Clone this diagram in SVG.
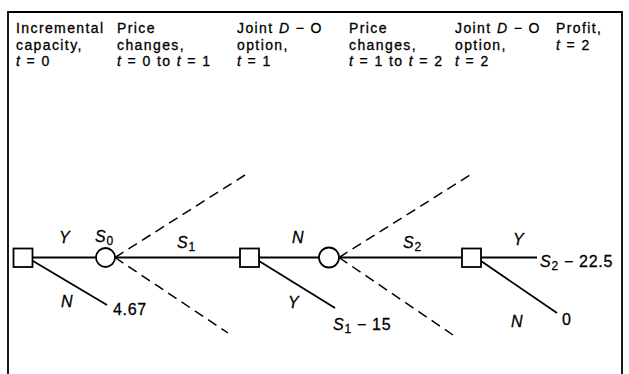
<svg xmlns="http://www.w3.org/2000/svg" width="629" height="374" viewBox="0 0 629 374">
<defs>
<style>
.hd{font-family:"Liberation Sans",Arial,sans-serif;font-size:14px;letter-spacing:1.4px;fill:#000;stroke:#000;stroke-width:0.3}
.lb{font-family:"Liberation Sans",Arial,sans-serif;font-size:16px;letter-spacing:0.7px;fill:#000;stroke:#000;stroke-width:0.3}
.it{font-style:italic}
.up{font-style:normal}
.sb{font-style:normal;font-size:12px}
.ln{stroke:#000;stroke-width:1.8;fill:none}
.ds{stroke:#000;stroke-width:1.5;fill:none;stroke-dasharray:10 6}
.nd{stroke:#000;stroke-width:1.8;fill:#fff}
</style>
</defs>
<rect width="629" height="374" fill="#fff"/>
<g id="frame">
<path class="ln" d="M8,374 V12 H622 V374"/>
</g>
<g id="headers">
<text class="hd" x="16" y="33">Incremental</text>
<text class="hd" x="16" y="49.5">capacity,</text>
<text class="hd" x="16" y="66"><tspan class="it">t</tspan> = 0</text>
<text class="hd" x="117" y="33">Price</text>
<text class="hd" x="117" y="49.5">changes,</text>
<text class="hd" x="117" y="66"><tspan class="it">t</tspan> = 0 to <tspan class="it">t</tspan> = 1</text>
<text class="hd" x="237" y="33">Joint <tspan class="it">D</tspan> − O</text>
<text class="hd" x="237" y="49.5">option,</text>
<text class="hd" x="237" y="66"><tspan class="it">t</tspan> = 1</text>
<text class="hd" x="349" y="33">Price</text>
<text class="hd" x="349" y="49.5">changes,</text>
<text class="hd" x="349" y="66"><tspan class="it">t</tspan> = 1 to <tspan class="it">t</tspan> = 2</text>
<text class="hd" x="455" y="33">Joint <tspan class="it">D</tspan> − O</text>
<text class="hd" x="455" y="49.5">option,</text>
<text class="hd" x="455" y="66"><tspan class="it">t</tspan> = 2</text>
<text class="hd" x="556" y="33">Profit,</text>
<text class="hd" x="556" y="49.5"><tspan class="it">t</tspan> = 2</text>
</g>
<g id="connectors">
<line class="ln" x1="33" y1="257.5" x2="96" y2="257.5"/>
<line class="ln" x1="115" y1="257.5" x2="240" y2="257.5"/>
<line class="ln" x1="259" y1="257.5" x2="319" y2="257.5"/>
<line class="ln" x1="339" y1="257.5" x2="462" y2="257.5"/>
<line class="ln" x1="481" y1="257.5" x2="537" y2="257.5"/>
<line class="ln" x1="33" y1="261" x2="107" y2="305"/>
<line class="ln" x1="259" y1="261" x2="335" y2="308"/>
<line class="ln" x1="481" y1="261" x2="557" y2="313"/>
<line class="ds" x1="115" y1="257.5" x2="245" y2="175"/>
<line class="ds" x1="115" y1="257.5" x2="228" y2="333"/>
<line class="ds" x1="339" y1="257.5" x2="470" y2="175"/>
<line class="ds" x1="339" y1="257.5" x2="453" y2="335"/>
</g>
<g id="n1"><rect class="nd" x="13.5" y="248.5" width="19" height="18.5"/></g>
<g id="c1"><circle class="nd" cx="105.5" cy="257.5" r="9.5"/></g>
<g id="n2"><rect class="nd" x="240" y="248.5" width="19" height="18.5"/></g>
<g id="c2"><circle class="nd" cx="329" cy="257.5" r="10"/></g>
<g id="n3"><rect class="nd" x="462" y="248.5" width="19" height="18.5"/></g>
<g id="labels">
<text class="lb it" x="59" y="243">Y</text>
<text class="lb it" x="95" y="242">S<tspan class="sb" dy="3">0</tspan></text>
<text class="lb it" x="177" y="248">S<tspan class="sb" dy="3">1</tspan></text>
<text class="lb it" x="61" y="307">N</text>
<text class="lb" x="113" y="315">4.67</text>
<text class="lb it" x="292" y="243">N</text>
<text class="lb it" x="288" y="308">Y</text>
<text class="lb it" x="333" y="330">S<tspan class="sb" dy="3">1</tspan><tspan class="up" dy="-3"> − 15</tspan></text>
<text class="lb it" x="403" y="248">S<tspan class="sb" dy="3">2</tspan></text>
<text class="lb it" x="513" y="245">Y</text>
<text class="lb it" x="540" y="267">S<tspan class="sb" dy="3">2</tspan><tspan class="up" dy="-3"> − 22.5</tspan></text>
<text class="lb it" x="511" y="327">N</text>
<text class="lb" x="562" y="325">0</text>
</g>
</svg>
